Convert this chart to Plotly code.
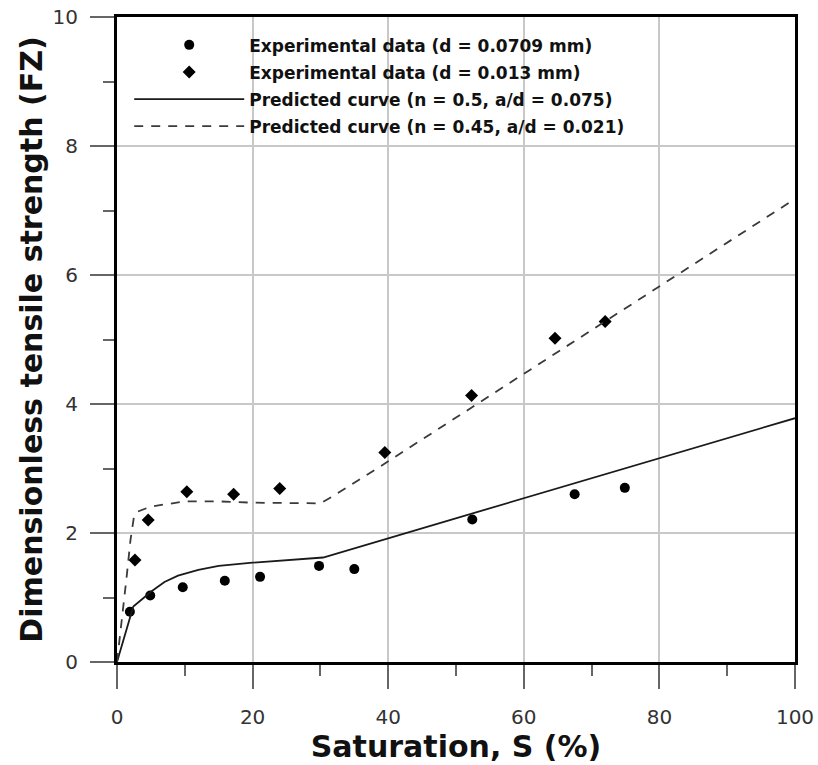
import plotly.graph_objects as go

# Experimental data, d = 0.0709 mm
s_coarse = [1.9, 4.9, 9.7, 15.9, 21.1, 29.8, 35.0, 52.4, 67.5, 74.9]
f_coarse = [0.78, 1.03, 1.16, 1.26, 1.32, 1.49, 1.44, 2.21, 2.60, 2.70]

# Experimental data, d = 0.013 mm
s_fine = [2.65, 4.6, 10.3, 17.2, 24.0, 39.5, 52.3, 64.6, 72.0]
f_fine = [1.58, 2.20, 2.64, 2.60, 2.69, 3.25, 4.13, 5.02, 5.28]

# Predicted curve (n = 0.5, a/d = 0.075)
s_pred1 = [0, 2.4, 4, 5, 7, 9, 12, 15, 20, 25, 30.4, 100]
f_pred1 = [0, 0.86, 1.0, 1.09, 1.24, 1.34, 1.43, 1.49, 1.54, 1.58, 1.62, 3.78]

# Predicted curve (n = 0.45, a/d = 0.021)
s_pred2 = [0, 0.8, 1.4, 2.0, 2.5, 3.0, 5, 10, 15, 20, 25, 30, 32, 35, 38.8, 100]
f_pred2 = [0, 0.7, 1.3, 1.9, 2.25, 2.33, 2.41, 2.49, 2.49, 2.47, 2.46, 2.46, 2.58, 2.78, 3.03, 7.18]

x_ticks = [0, 20, 40, 60, 80, 100]
y_ticks = [0, 2, 4, 6, 8, 10]

names = [
    "Experimental data (d = 0.0709 mm)",
    "Experimental data (d = 0.013 mm)",
    "Predicted curve (n = 0.5, a/d = 0.075)",
    "Predicted curve (n = 0.45, a/d = 0.021)",
]

fig = go.Figure()
fig.add_trace(go.Scatter(x=s_coarse, y=f_coarse, mode="markers", name=names[0], legendgroup="a",
                         marker=dict(symbol="circle", size=10, color="black")))
fig.add_trace(go.Scatter(x=s_fine, y=f_fine, mode="markers", name=names[1], legendgroup="b",
                         marker=dict(symbol="diamond", size=10, color="black")))
fig.add_trace(go.Scatter(x=s_pred1, y=f_pred1, mode="lines", name=names[2], legendgroup="c",
                         line=dict(color="#1a1a1a", width=1.8)))
fig.add_trace(go.Scatter(x=s_pred2, y=f_pred2, mode="lines", name=names[3], legendgroup="d",
                         line=dict(color="#3a3a3a", width=1.8, dash="9px,8px")))

tick_font = dict(family="DejaVu Sans", size=20, color="#333333")
title_font = dict(family="DejaVu Sans", size=30, color="#111111")

axis_common = dict(
    showline=True, linecolor="black", linewidth=3, mirror=True,
    showgrid=True, gridcolor="#c8c8c8", gridwidth=1.5,
    zeroline=False, automargin=False,
    ticks="outside", ticklen=24, tickwidth=1.5, tickcolor="#666666",
    tickfont=tick_font,
)

fig.update_xaxes(range=[0, 100], tickvals=x_ticks, ticklabelstandoff=11,
                 minor=dict(dtick=10, ticks="outside", ticklen=11, tickwidth=1.5, tickcolor="#666666", showgrid=False),
                 title=dict(text="<b>Saturation, S (%)</b>", font=title_font, standoff=4),
                 **axis_common)
fig.update_yaxes(range=[0, 10], tickvals=y_ticks, ticklabelstandoff=8,
                 minor=dict(dtick=1, ticks="outside", ticklen=11, tickwidth=1.5, tickcolor="#666666", showgrid=False),
                 title=dict(text="<b>Dimensionless tensile strength (FZ)</b>", font=title_font, standoff=2),
                 **axis_common)

fig.update_layout(
    width=818, height=765,
    margin=dict(l=117, r=23, t=17, b=103),
    paper_bgcolor="white", plot_bgcolor="white",
    showlegend=True,
    legend=dict(x=0.018, y=0.984, xanchor="left", yanchor="top",
                bgcolor="rgba(255,255,255,0)", borderwidth=0,
                font=dict(family="DejaVu Sans", size=17, color="#111111"),
                itemwidth=110, tracegroupgap=2),
)
for tr in fig.data:
    tr.name = "<b>" + tr.name + "</b>"

fig.write_html("out.html")
